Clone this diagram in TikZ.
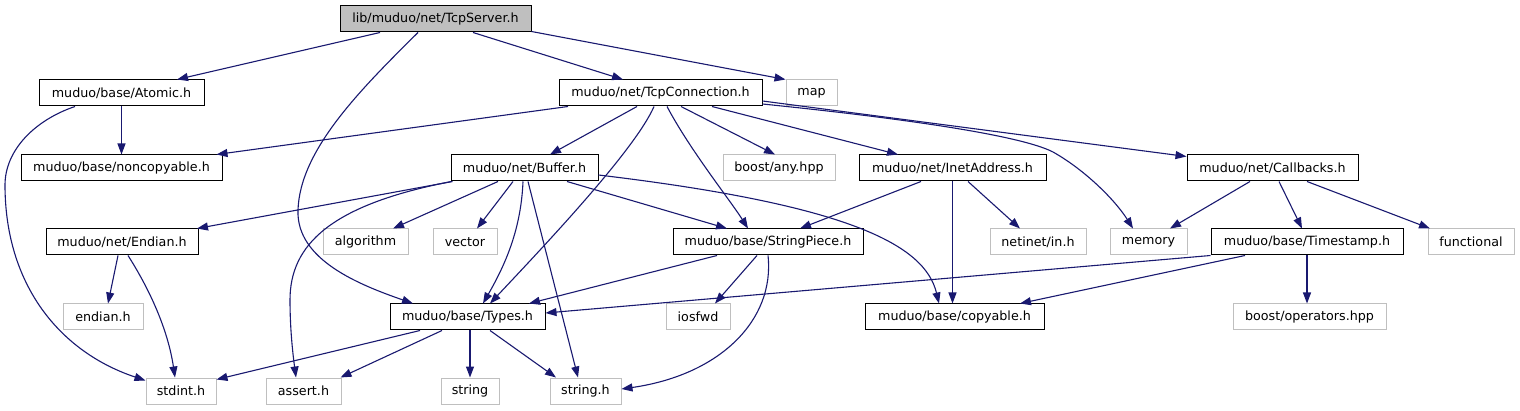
\documentclass[tikz,border=0pt]{standalone}
\usepackage{fontspec}
\setmainfont{DejaVu Sans}
\usetikzlibrary{arrows.meta}
\definecolor{edgecol}{HTML}{191970}
\definecolor{extgray}{HTML}{BFBFBF}
\begin{document}
\begin{tikzpicture}[x=1pt,y=-1pt,
  box/.style={draw=black, line width=1pt, rectangle, minimum height=26pt, inner sep=0pt, font=\fontsize{12.7}{15}\selectfont},
  ext/.style={box, draw=extgray},
  root/.style={box, fill=extgray},
  e/.style={draw=edgecol, line width=1.1pt, -{Triangle[length=11pt,width=8pt]}}]
\fill[white] (0,0) rectangle (1520,411);
\useasboundingbox (0,0) rectangle (1520,411);
% row 0
\node[root, minimum width=191pt] (tcpserver) at (435.5,19) {lib/muduo/net/TcpServer.h};
% row 1
\node[box, minimum width=165pt] (atomic) at (121.5,93) {muduo/base/Atomic.h};
\node[box, minimum width=203pt] (tcpconn) at (660.5,93) {muduo/net/TcpConnection.h};
\node[ext, minimum width=51pt] (map) at (811.5,93) {map};
% row 2
\node[box, minimum width=201pt] (noncopy) at (121.5,168) {muduo/base/noncopyable.h};
\node[box, minimum width=147pt] (buffer) at (524.5,168) {muduo/net/Buffer.h};
\node[ext, minimum width=112pt] (boostany) at (779,168) {boost/any.hpp};
\node[box, minimum width=187pt] (inet) at (952.5,168) {muduo/net/InetAddress.h};
\node[box, minimum width=171pt] (callbacks) at (1272.5,168) {muduo/net/Callbacks.h};
% row 3
\node[box, minimum width=152pt] (endian) at (122,242) {muduo/net/Endian.h};
\node[ext, minimum width=85pt] (algorithm) at (365.5,242) {algorithm};
\node[ext, minimum width=64pt] (vector) at (465,242) {vector};
\node[box, minimum width=190pt] (strpiece) at (768,242) {muduo/base/StringPiece.h};
\node[ext, minimum width=96pt] (netinet) at (1038,242) {netinet/in.h};
\node[ext, minimum width=77pt] (memory) at (1148.5,242) {memory};
\node[box, minimum width=192pt] (timestamp) at (1307,242) {muduo/base/Timestamp.h};
\node[ext, minimum width=86pt] (functional) at (1471,242) {functional};
% row 4
\node[ext, minimum width=80pt] (endianh) at (103,317) {endian.h};
\node[box, minimum width=155pt] (types) at (467.5,317) {muduo/base/Types.h};
\node[ext, minimum width=64pt] (iosfwd) at (698,317) {iosfwd};
\node[box, minimum width=179pt] (copyable) at (954.5,317) {muduo/base/copyable.h};
\node[ext, minimum width=153pt] (boostop) at (1309.5,317) {boost/operators.hpp};
% row 5
\node[ext, minimum width=70pt] (stdint) at (181,391) {stdint.h};
\node[ext, minimum width=75pt] (assert) at (303.5,391) {assert.h};
\node[ext, minimum width=58pt] (string) at (470,391) {string};
\node[ext, minimum width=71pt] (stringh) at (585.5,391) {string.h};
% TcpServer
\draw[e] ([xshift=-55.5pt]tcpserver.south) -- ([xshift=55.5pt]atomic.north);
\draw[e] ([xshift=-17.5pt]tcpserver.south) .. controls (360,90) and (300,150) .. (298,210) .. controls (296,260) and (360,285) .. ([xshift=-54.5pt]types.north);
\draw[e] ([xshift=37.5pt]tcpserver.south) -- ([xshift=-37.5pt]tcpconn.north);
\draw[e] ([yshift=1pt]tcpserver.south east) -- (map.north west);
% Atomic
\draw[e] (atomic.south) -- (noncopy.north);
\draw[e] ([xshift=-46.5pt]atomic.south) .. controls (35,120) and (5,150) .. (5,185) .. controls (5,285) and (60,352) .. ([yshift=-3pt]stdint.north west);
% TcpConnection
\draw[e] ([xshift=-92.5pt]tcpconn.south) -- ([xshift=-6pt]noncopy.north east);
\draw[e] ([xshift=-23.5pt]tcpconn.south) -- ([xshift=25.5pt]buffer.north);
\draw[e] ([xshift=-6.5pt]tcpconn.south) .. controls (635,150) and (545,245) .. ([xshift=22.5pt]types.north);
\draw[e] ([xshift=6.5pt]tcpconn.south) .. controls (690,150) and (730,200) .. ([xshift=-20pt]strpiece.north);
\draw[e] ([xshift=20.5pt]tcpconn.south) -- ([xshift=-4pt]boostany.north);
\draw[e] ([xshift=51.5pt]tcpconn.south) -- ([xshift=-54.5pt]inet.north);
\draw[e] ([yshift=-11pt]tcpconn.east) .. controls (900,118) and (1020,135) .. (1053,152) .. controls (1085,170) and (1115,200) .. ([xshift=-15.5pt]memory.north);
\draw[e] ([yshift=-8pt]tcpconn.east) -- ([yshift=-2pt]callbacks.north west);
% Buffer
\draw[e] ([xshift=2pt]buffer.south west) -- ([xshift=75pt]endian.north);
\draw[e] ([xshift=-26.5pt]buffer.south) -- ([xshift=27.5pt]algorithm.north);
\draw[e] ([xshift=-11.5pt]buffer.south) -- ([xshift=12pt]vector.north);
\draw[e] ([xshift=-1.5pt]buffer.south) .. controls (521,230) and (505,265) .. ([xshift=15.5pt]types.north);
\draw[e] ([xshift=3.5pt]buffer.south) -- ([xshift=-7.5pt]stringh.north);
\draw[e] ([xshift=42.5pt]buffer.south) -- ([xshift=-41pt]strpiece.north);
\draw[e] ([yshift=-7pt]buffer.east) .. controls (850,205) and (925,245) .. ([xshift=-15.5pt]copyable.north);
\draw[e] ([xshift=1pt]buffer.south west) .. controls (330,205) and (290,245) .. (290,300) .. controls (290,330) and (293,355) .. ([xshift=-7.5pt]assert.north);
% InetAddress
\draw[e] ([xshift=-31.5pt]inet.south) -- ([xshift=32pt]strpiece.north);
\draw[e] (inet.south) -- (inet.south |- copyable.north);
\draw[e] ([xshift=15.5pt]inet.south) -- ([xshift=-18pt]netinet.north);
% Callbacks
\draw[e] ([xshift=-22.5pt]callbacks.south) -- ([xshift=21.5pt]memory.north);
\draw[e] ([xshift=6.5pt]callbacks.south) -- ([xshift=-5pt]timestamp.north);
\draw[e] ([xshift=34.5pt]callbacks.south) -- ([xshift=-41pt]functional.north);
% Endian
\draw[e] ([xshift=-4pt]endian.south) -- ([xshift=5pt]endianh.north);
\draw[e] ([xshift=6pt]endian.south) .. controls (150,290) and (168,330) .. ([xshift=-6pt]stdint.north);
% StringPiece
\draw[e] ([xshift=-51pt]strpiece.south) -- ([xshift=61.5pt]types.north);
\draw[e] ([xshift=-11pt]strpiece.south) -- ([xshift=17pt]iosfwd.north);
\draw[e] (strpiece.south) .. controls (775,320) and (720,375) .. ([yshift=2pt]stringh.east);
% Timestamp
\draw[e] (timestamp.south west) -- ([yshift=4pt]types.east);
\draw[e] ([xshift=-62pt]timestamp.south) -- ([xshift=65.5pt]copyable.north);
\draw[e] (timestamp.south) -- (timestamp.south |- boostop.north);
% Types
\draw[e] ([xshift=-47.5pt]types.south) -- ([yshift=-2pt]stdint.north east);
\draw[e] ([xshift=-25.5pt]types.south) -- ([xshift=-1pt]assert.north east);
\draw[e] ([xshift=2.5pt]types.south) -- (string.north);
\draw[e] ([xshift=22.5pt]types.south) -- ([xshift=-29.5pt]stringh.north);
\end{tikzpicture}
\end{document}
